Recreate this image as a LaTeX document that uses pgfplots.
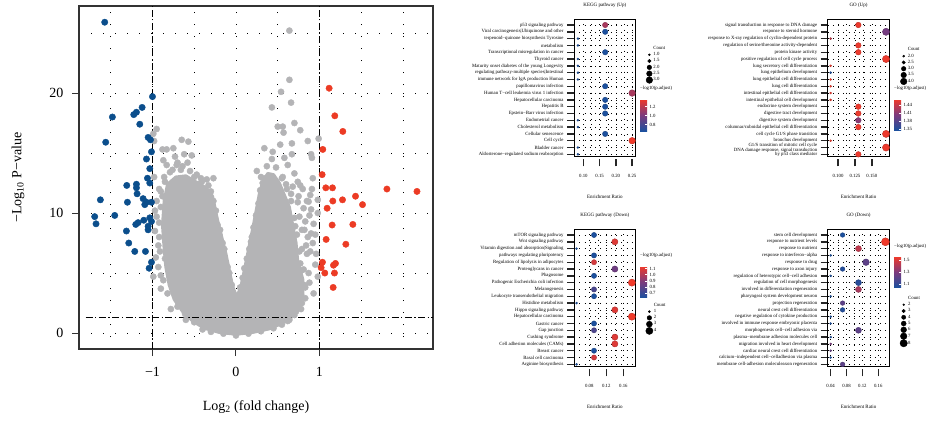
\documentclass[border=0pt]{standalone}
\usepackage{fontspec}
\setmainfont{Liberation Serif}
\usepackage{pgfplots}
\pgfplotsset{compat=1.18}
\definecolor{vblue}{RGB}{11,78,140}
\definecolor{vred}{RGB}{236,59,36}
\definecolor{vgray}{RGB}{180,180,182}
\pgfplotsset{colormap={bpr}{rgb255=(28,80,158) rgb255=(125,58,125) rgb255=(240,58,42)}}
\newcommand\tf{\fontsize{4.8}{4.3}\selectfont}
\pgfplotsset{
 dotpanel/.style={
  scale only axis, width=61.7pt, height=137.7pt,
  y dir=reverse, ymin=0.12, ymax=20.35, ytick={1,...,20},
  tick pos=left, tick align=outside, major tick length=7pt, minor tick length=0pt,
  ytick style={line width=1.4pt, black!85},
  xtick style={line width=1.4pt, black!85, yshift=-2.6pt},
  axis line style={line width=1pt, black},
  grid=both, grid style={black, line width=0.45pt, dash pattern=on 0.45pt off 4.8pt},
  minor x tick num=1,
  tick label style={font=\tf},
  yticklabel style={align=right},
  xticklabel style={yshift=-7pt},
  title style={font=\fontsize{5}{5}\selectfont, at={(0.5,1)}, anchor=south, yshift=1.5pt},
  xlabel={Enrichment Ratio},
  xlabel style={font=\fontsize{5}{5}\selectfont, at={(axis description cs:0.5,-0.29)}, anchor=center},
  colormap name=bpr,
  legend cell align=left,
  legend style={draw=none, fill=none, font=\tf, inner sep=0pt, row sep=0pt, nodes={inner sep=0.8pt}},
 },
 cbar/.style={scale only axis, y dir=normal, grid=none, xlabel={}, width=7pt,
  axis line style={draw=none}, major tick length=2pt, tick style={white, line width=0.5pt, yshift=0pt},
  ytick pos=right, yticklabel pos=right, yticklabel style={font=\tf, xshift=-1pt},
  title style={font=\tf, at={(0,1)}, anchor=south west, inner sep=1pt, yshift=1pt, xshift=-1pt}},
 dots/.style={scatter, only marks, mark=*, forget plot, point meta=\thisrow{c},
  visualization depends on={\thisrow{r} \as \rad},
  scatter/@pre marker code/.append style={/tikz/mark size=\rad pt}},
}
\begin{document}
\begin{tikzpicture}
\path[use as bounding box] (0,0) rectangle (929pt,-421pt);
% ---------------- volcano ----------------
\begin{axis}[at={(79pt,-349pt)}, anchor=south west, scale only axis, width=354pt, height=343pt,
 xmin=-1.88, xmax=2.36, ymin=-1.33, ymax=27.25,
 xtick={-1,0,1}, xticklabels={−1,0,1}, ytick={0,10,20}, yticklabels={0,10,20},
 minor xtick={-1.5,-0.5,0.5,1.5,2}, minor ytick={5,15,25},
 grid=both, grid style={black, line width=0.7pt, dash pattern=on 0.7pt off 11.3pt},
 tick pos=left, tick align=outside, major tick length=7pt, minor tick length=0pt,
 tick style={black!80, line width=1pt},
 axis line style={black!80, line width=1.2pt},
 tick label style={font=\fontsize{14}{14}\selectfont},
 xticklabel style={yshift=-8pt}, yticklabel style={xshift=-5pt},
 xlabel={Log\textsubscript{2} (fold change)}, ylabel={−Log\textsubscript{10} P−value},
 label style={font=\fontsize{14}{14}\selectfont},
 xlabel style={at={(axis description cs:0.5,-0.168)}, anchor=center},
 ylabel style={at={(axis description cs:-0.172,0.5)}, anchor=center},
]
\addplot[fill=vgray, draw=vgray, line width=3pt, line join=round] coordinates {
(0,-0.1) (0.2,0.05) (0.4,0.35) (0.55,0.8) (0.68,1.4) (0.76,2.2) (0.80,3.2) (0.80,4.5) (0.74,6.0) (0.72,7.5) (0.68,9.0) (0.64,10.5) (0.58,11.5) (0.52,12.5) (0.45,13.2) (0.38,13.3) (0.32,12.6) (0.28,11.6) (0.22,9.4) (0.14,6.6) (0.06,3.9) (0.01,3.0) (-0.04,3.9) (-0.12,6.6) (-0.22,9.4) (-0.28,11.4) (-0.36,12.1) (-0.48,12.6) (-0.6,13.1) (-0.72,13.0) (-0.82,12.4) (-0.86,11.0) (-0.88,9.0) (-0.86,7.0) (-0.84,5.5) (-0.80,4.0) (-0.74,2.8) (-0.64,1.8) (-0.52,1.0) (-0.38,0.4) (-0.2,0.05)} -- cycle;
\addplot[only marks, mark=*, mark size=3.1pt, color=vgray] table {
0.64 25.2
0.64 21.1
0.54 20.1
0.66 19.2
0.43 18.8
0.50 17.2
0.56 17.2
0.57 16.7
0.70 17.5
0.77 16.9
0.86 16.0
0.99 16.2
0.90 14.9
0.91 14.6
0.92 12.9
0.91 12.0
0.89 11.5
0.98 11.1
0.87 10.95
0.98 10.0
0.95 8.2
0.90 8.3
0.84 7.3
0.95 5.7
0.98 4.7
0.93 3.3
0.79 2.5
0.64 1.1
0.34 15.4
0.44 15.1
0.53 15.7
0.67 15.8
0.67 14.9
0.58 14.6
0.43 14.5
0.37 13.9
0.25 13.5
0.35 12.9
0.70 13.3
0.77 12.3
0.66 11.6
0.53 11.5
0.81 10.4
0.76 9.7
0.83 9.3
0.79 8.6
0.71 8.9
0.85 6.6
0.77 5.8
0.81 5.3
0.73 4.7
0.69 3.6
0.62 14.0
0.48 13.8
0.56 13.0
0.74 12.6
0.85 11.0
0.88 9.8
0.86 8.0
0.89 6.8
0.87 5.0
0.82 4.0
0.88 4.2
0.78 3.2
0.72 2.2
0.82 8.6
0.74 10.9
0.80 12.0
0.90 10.3
0.93 9.1
0.96 6.6
0.92 7.5
0.60 12.4
0.68 12.2
0.75 11.4
0.79 7.0
0.76 4.4
0.83 2.9
0.78 5.2
0.76 6.8
0.73 8.2
0.70 9.6
0.66 11.0
0.61 12.0
0.55 12.9
0.83 3.8
0.62 1.0
0.72 1.8
-0.95 17.0
-0.99 16.6
-0.65 16.1
-0.57 15.95
-0.75 15.4
-0.83 15.3
-0.53 14.8
-0.87 14.4
-0.73 14.7
-0.27 12.9
-0.41 12.6
-0.71 14.0
-0.79 13.4
-0.95 9.7
-0.93 5.5
-0.87 4.4
-0.99 4.7
-0.69 2.5
-0.61 1.6
-0.98 16.0
-0.88 15.3
-0.70 14.2
-0.66 13.6
-0.52 12.2
-0.45 12.4
-0.85 12.6
-0.92 12.0
-0.95 11.0
-0.90 10.5
-0.97 8.5
-0.93 7.3
-0.96 6.3
-0.90 3.7
-0.78 2.0
-0.50 0.9
-0.60 12.9
-0.55 13.5
-0.38 12.0
-0.30 11.8
-0.47 13.2
-0.62 14.9
-0.88 11.4
-0.92 8.0
-0.85 6.2
-0.82 9.8
-0.58 14.2
-0.83 14.0
-0.35 12.8
-0.98 13.0
-0.97 10.2
-0.90 4.8
-0.91 6.8
-0.92 9.2
-0.90 11.8
-0.86 13.0
-0.76 13.6
-0.64 13.9
-0.50 13.0
-0.42 12.9
-0.70 2.2
-0.82 3.3
-0.40 0.3
-0.30 0.1
-0.15 -0.05
0.00 -0.2
0.15 -0.05
0.30 0.15
0.45 0.4
0.55 0.7
-0.60 1.1
0.70 1.5
0.78 2.0
-0.27 11.0
-0.22 9.0
-0.16 7.5
-0.10 5.5
-0.05 4.0
0.05 3.8
0.10 5.4
0.16 7.0
0.21 8.8
0.27 10.8
0.32 12.5
0.30 13.0
-0.33 12.3
-0.20 8.2
0.19 8.0
0.00 2.6
-0.24 10.2
-0.19 8.6
-0.14 7.0
-0.08 5.0
0.08 4.6
0.13 6.2
0.18 7.6
0.24 9.8
0.29 11.9
};
\addplot[only marks, mark=*, mark size=3.2pt, color=vblue] table {
-1.572 25.9
-1.0 19.7
-1.124 18.8
-1.192 18.4
-1.224 18.2
-1.48 18.0
-1.152 17.4
-1.56 15.9
-1.052 16.3
-1.024 16.1
-1.012 15.1
-1.072 14.5
-1.032 13.7
-1.06 12.9
-1.032 12.5
-1.308 12.3
-1.192 12.4
-1.192 12.1
-1.184 11.6
-1.624 11.1
-1.30 10.9
-1.112 11.2
-1.072 10.9
-1.012 10.9
-1.092 10.7
-1.452 9.8
-1.692 9.7
-1.676 9.1
-1.032 9.6
-1.012 9.3
-1.104 9.4
-1.172 9.2
-1.20 9.05
-1.052 8.9
-1.312 8.5
-1.052 8.6
-1.284 7.5
-1.212 6.8
-1.084 6.8
-1.012 5.9
-1.04 5.4
};
\addplot[only marks, mark=*, mark size=3.2pt, color=vred] table {
1.116 20.4
1.184 18.1
1.28 16.8
1.04 15.3
1.032 13.2
1.076 12.1
1.156 12.1
1.808 12.0
2.168 11.8
1.276 11.1
1.16 11.0
1.432 11.4
1.516 10.7
1.092 10.4
1.152 9.0
1.40 9.05
1.08 7.8
1.316 7.4
1.036 5.9
1.02 5.45
1.064 5.0
1.168 5.65
1.192 5.8
1.18 5.0
1.164 3.8
};
\addplot[black, line width=1.3pt, dash pattern=on 7pt off 2.5pt on 1.3pt off 2.5pt] coordinates {(-1,-1.33) (-1,27.25)};
\addplot[black, line width=1.3pt, dash pattern=on 7pt off 2.5pt on 1.3pt off 2.5pt] coordinates {(1,-1.33) (1,27.25)};
\addplot[black, line width=1.3pt, dash pattern=on 7pt off 2.5pt on 1.3pt off 2.5pt] coordinates {(-1.8,1.301) (2.36,1.301)};
\end{axis}
% ---------------- KEGG Up ----------------
\begin{axis}[dotpanel, at={(574pt,-156.7pt)}, anchor=south west,
 title={KEGG pathway (Up)},
 xmin=0.071, xmax=0.261, xtick={0.10,0.15,0.20,0.25}, xticklabels={0.10,0.15,0.20,0.25},
 yticklabels={p53 signaling pathway, Viral carcinogenesis|Ubiquinone and other, terpenoid−quinone biosynthesis Tyrosine, metabolism, Transcriptional misregulation in cancer, Thyroid cancer, Maturity onset diabetes of the young Longevity, regulating pathway-multiple species|Intestinal, immune network for IgA production Human, papillomavirus infection, Human T−cell leukemia virus 1 infection, Hepatocellular carcinoma, Hepatitis B, Epstein−Barr virus infection, Endometrial cancer, Cholesterol metabolism, Cellular senescence, Cell cycle, Bladder cancer, Aldosterone−regulated sodium reabsorption},
 point meta min=0.66, point meta max=1.37,
 colorbar, colorbar style={cbar, height=32pt, at={(1.07,0.419)}, anchor=north west,
  ytick={0.8,1.0,1.2}, yticklabels={0.8,1.0,1.2}, title={−log10(p.adjust)}},
 legend style={at={(1.08,0.81)}, anchor=north west},
]
\addplot[dots] table {
x y c r
0.167 1 1.15 2.7
0.167 2 0.66 2.7
0.083 3 0.66 1.0
0.083 4 0.66 1.0
0.167 5 0.66 2.7
0.083 6 0.66 1.0
0.083 7 0.66 1.0
0.083 8 0.66 1.0
0.083 9 0.66 1.0
0.167 10 0.66 2.7
0.25 11 1.15 3.3
0.167 12 0.66 2.7
0.167 13 0.66 2.7
0.167 14 0.66 2.7
0.083 15 0.66 1.0
0.083 16 0.66 1.0
0.167 17 0.66 2.7
0.25 18 1.37 3.3
0.083 19 0.66 1.0
0.083 20 0.66 1.0
};
\addlegendimage{empty legend}\addlegendentry{Count}
\addlegendimage{only marks, mark=*, black, mark size=1pt}\addlegendentry{1.0}
\addlegendimage{only marks, mark=*, black, mark size=1.7pt}\addlegendentry{1.5}
\addlegendimage{only marks, mark=*, black, mark size=2.3pt}\addlegendentry{2.0}
\addlegendimage{only marks, mark=*, black, mark size=2.8pt}\addlegendentry{2.5}
\addlegendimage{only marks, mark=*, black, mark size=3.3pt}\addlegendentry{3.0}
\end{axis}
% ---------------- GO Up ----------------
\begin{axis}[dotpanel, at={(827.7pt,-156.7pt)}, anchor=south west,
 title={GO (Up)},
 xmin=0.0847, xmax=0.176, xtick={0.100,0.125,0.150}, xticklabels={0.100,0.125,0.150},
 yticklabels={signal transduction in response to DNA damage, response to steroid hormone, response to X-ray regulation of cyclin-dependent protein, regulation of serine/threonine activity-dependent, protein kinase activity, positive regulation of cell cycle process, lung secretory cell differentiation, lung epithelium development, lung epithelial cell differentiation, lung cell differentiation, intestinal epithelial cell differentiation, intestinal epithelial cell development, endocrine system development, digestive tract development, digestive system development, columnar/cuboidal epithelial cell differentiation, cell cycle G1/S phase transition, bronchus development, {G1/S transition of mitotic cell cycle\\DNA damage response, signal transduction}, by p53 class mediator},
 point meta min=1.347, point meta max=1.462,
 colorbar, colorbar style={cbar, height=31pt, at={(1.075,0.418)}, anchor=north west,
  ytick={1.35,1.38,1.41,1.44}, yticklabels={1.35,1.38,1.41,1.44}, title={−log10(p.adjust)}},
 legend style={at={(1.09,0.80)}, anchor=north west},
]
\addplot[dots] table {
x y c r
0.13 1 1.46 2.8
0.171 2 1.40 3.6
0.089 3 1.44 1.0
0.13 4 1.46 2.8
0.13 5 1.46 2.8
0.171 6 1.46 3.6
0.089 7 1.46 1.0
0.089 8 1.347 1.0
0.089 9 1.46 1.0
0.089 10 1.46 1.0
0.089 11 1.46 1.0
0.089 12 1.46 1.0
0.13 13 1.46 2.8
0.13 14 1.46 2.8
0.13 15 1.41 2.8
0.13 16 1.46 2.8
0.171 17 1.46 3.6
0.089 18 1.46 1.0
0.171 19 1.46 3.6
0.13 20 1.46 2.8
};
\addlegendimage{empty legend}\addlegendentry{Count}
\addlegendimage{only marks, mark=*, black, mark size=1pt}\addlegendentry{2.0}
\addlegendimage{only marks, mark=*, black, mark size=1.7pt}\addlegendentry{2.5}
\addlegendimage{only marks, mark=*, black, mark size=2.3pt}\addlegendentry{3.0}
\addlegendimage{only marks, mark=*, black, mark size=2.8pt}\addlegendentry{3.5}
\addlegendimage{only marks, mark=*, black, mark size=3.3pt}\addlegendentry{4.0}
\end{axis}
% ---------------- KEGG Down ----------------
\begin{axis}[dotpanel, at={(574pt,-366.7pt)}, anchor=south west,
 title={KEGG pathway (Down)},
 xmin=0.044, xmax=0.189, xtick={0.08,0.12,0.16}, xticklabels={0.08,0.12,0.16},
 yticklabels={mTOR signaling pathway, Wnt signaling pathway, Vitamin digestion and absorption|Signaling, pathways regulating pluripotency, Regulation of lipolysis in adipocytes, Proteoglycans in cancer, Phagosome, Pathogenic Escherichia coli infection, Melanogenesis, Leukocyte transendothelial migration, Histidine metabolism, Hippo signaling pathway, Hepatocellular carcinoma, Gastric cancer, Gap junction, Cushing syndrome, Cell adhesion molecules (CAMs), Breast cancer, Basal cell carcinoma, Arginine biosynthesis},
 point meta min=0.63, point meta max=1.14,
 colorbar, colorbar style={cbar, height=31.3pt, at={(1.07,0.731)}, anchor=north west,
  ytick={0.7,0.8,0.9,1.0,1.1}, yticklabels={0.7,0.8,0.9,1.0,1.1}, title={−log10(p.adjust)}},
 legend style={at={(1.08,0.47)}, anchor=north west},
]
\addplot[dots] table {
x y c r
0.091 1 0.63 2.6
0.140 2 1.10 3.1
0.05 3 0.63 1.0
0.091 4 0.63 2.6
0.091 5 1.08 2.6
0.140 6 0.85 3.1
0.091 7 0.63 2.6
0.18 8 1.14 3.6
0.091 9 0.75 2.6
0.091 10 0.63 2.6
0.05 11 0.63 1.0
0.140 12 1.10 3.1
0.18 13 1.14 3.6
0.091 14 0.63 2.6
0.091 15 0.76 2.6
0.140 16 1.10 3.1
0.140 17 1.10 3.1
0.091 18 0.63 2.6
0.091 19 1.08 2.6
0.05 20 0.63 1.0
};
\addlegendimage{empty legend}\addlegendentry{Count}
\addlegendimage{only marks, mark=*, black, mark size=1pt}\addlegendentry{1}
\addlegendimage{only marks, mark=*, black, mark size=2.3pt}\addlegendentry{2}
\addlegendimage{only marks, mark=*, black, mark size=3pt}\addlegendentry{3}
\addlegendimage{only marks, mark=*, black, mark size=3.6pt}\addlegendentry{4}
\end{axis}
% ---------------- GO Down ----------------
\begin{axis}[dotpanel, at={(827.7pt,-366.7pt)}, anchor=south west,
 title={GO (Down)},
 xmin=0.0325, xmax=0.188, xtick={0.04,0.08,0.12,0.16}, xticklabels={0.04,0.08,0.12,0.16},
 yticklabels={stem cell development, response to nutrient levels, response to nutrient, response to interferon−alpha, response to drug, response to axon injury, regulation of heterotypic cell−cell adhesion, regulation of cell morphogenesis, involved in differentiation regeneration, pharyngeal system development neuron, projection regeneration, neural crest cell differentiation, negative regulation of cytokine production, involved in immune response embryonic placenta, morphogenesis cell−cell adhesion via, plasma−membrane adhesion molecules cell, migration involved in heart development, cardiac neural crest cell differentiation, calcium−independent cell−celladhesion via plasma, membrane cell-adhesion moleculeaxon regeneration},
 point meta min=1.05, point meta max=1.56,
 colorbar, colorbar style={cbar, height=30.6pt, at={(1.075,0.799)}, anchor=north west,
  ytick={1.1,1.3,1.5}, yticklabels={1.1,1.3,1.5}, title={−log10(p.adjust)}},
 legend style={at={(1.09,0.52)}, anchor=north west},
]
\addplot[dots] table {
x y c r
0.07 1 1.05 2.3
0.178 2 1.56 4.0
0.11 3 1.45 3.0
0.04 4 1.05 1.0
0.129 5 1.22 3.3
0.07 6 1.07 2.3
0.04 7 1.05 1.0
0.11 8 1.08 3.0
0.11 9 1.40 3.0
0.04 10 1.05 1.0
0.07 11 1.22 2.3
0.07 12 1.07 2.3
0.04 13 1.05 1.0
0.04 14 1.05 1.0
0.11 15 1.22 3.0
0.04 16 1.05 1.0
0.04 17 1.30 1.0
0.04 18 1.25 1.0
0.04 19 1.05 1.0
0.07 20 1.22 2.3
};
\addlegendimage{empty legend}\addlegendentry{Count}
\addlegendimage{only marks, mark=*, black, mark size=0.9pt}\addlegendentry{2}
\addlegendimage{only marks, mark=*, black, mark size=1.7pt}\addlegendentry{3}
\addlegendimage{only marks, mark=*, black, mark size=2.1pt}\addlegendentry{4}
\addlegendimage{only marks, mark=*, black, mark size=2.5pt}\addlegendentry{5}
\addlegendimage{only marks, mark=*, black, mark size=2.9pt}\addlegendentry{6}
\addlegendimage{only marks, mark=*, black, mark size=3.3pt}\addlegendentry{7}
\addlegendimage{only marks, mark=*, black, mark size=3.7pt}\addlegendentry{8}
\end{axis}
\end{tikzpicture}
\end{document}
